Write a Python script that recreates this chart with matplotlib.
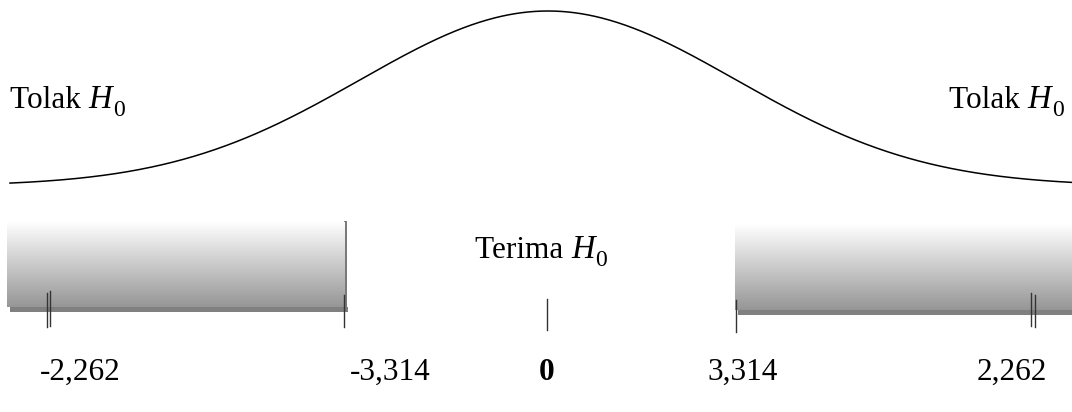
import numpy as np
import matplotlib
matplotlib.use("Agg")
import matplotlib.pyplot as plt

plt.rcParams['font.family'] = ['Liberation Serif', 'DejaVu Serif']

# diagram layout values (canvas units)
curve_center = 548
curve_sigma = 188
curve_base = 186
curve_peak = 11
curve_x_range = [10, 1072]

region_left = [7, 345]       # rejection region left (x0, x1)
region_right = [735, 1072]   # rejection region right
region_left_y = [222, 307]
region_right_y = [225, 310]

tick_x = [47, 50, 344, 547, 736, 1031, 1035]
tick_y0 = [293, 291, 295, 299, 300, 293, 295]
tick_y1 = [327, 326, 327, 330, 332, 326, 327]

value_labels = ['-2,262', '-3,314', '0', '3,314', '2,262']
value_x = [80, 390, 547, 743, 1012]
value_bold = [False, False, True, False, False]
value_y = 372

area_words = ['Tolak ', 'Tolak ', 'Terima ']
area_sym = ['H', 'H', 'H']
area_sub = ['0', '0', '0']
area_x = [10, 949, 475]          # left edge of each label
area_baseline = [108, 108, 258]

W, H = 1072, 412
fig = plt.figure(figsize=(W / 100, H / 100), dpi=100)
ax = fig.add_axes([0, 0, 1, 1])
ax.set_xlim(0, W)
ax.set_ylim(H, 0)
ax.axis('off')

# bell curve
xs = np.linspace(curve_x_range[0], curve_x_range[1], 800)
ys = curve_base - (curve_base - curve_peak) * np.exp(-(xs - curve_center) ** 2 / (2 * curve_sigma ** 2))
ax.plot(xs, ys, color='black', lw=1.1)

# gradient rectangles with shadow
grad = np.linspace(254, 150, 256)[:, None] / 255.0
grad_img = np.dstack([grad, grad, grad])

def region(xr, yr, shadow_right=True):
    x0, x1 = xr
    y0, y1 = yr
    ax.fill_between([x0 + 3, x1 + 3 if shadow_right else x1], y1, y1 + 5,
                    color='#808080', lw=0, zorder=1)
    if shadow_right:
        ax.fill_between([x1 - 1, x1 + 2], y0 - 1, y1 + 5, color='#7a7a7a', lw=0, zorder=1)
    ax.imshow(grad_img, extent=[x0, x1, y1, y0], aspect='auto', zorder=2,
              interpolation='bilinear')

region(region_left, region_left_y, True)
region(region_right, region_right_y, False)
ax.set_xlim(0, W)
ax.set_ylim(H, 0)

for x, a, b in zip(tick_x, tick_y0, tick_y1):
    ax.plot([x, x], [a, b], color='#333333', lw=1.0, zorder=3)

for t, x, b in zip(value_labels, value_x, value_bold):
    ax.text(x, value_y, t, ha='center', va='center', fontsize=22.5,
            fontweight='bold' if b else 'normal')

fig.canvas.draw()
for w, s, sub, x, yb in zip(area_words, area_sym, area_sub, area_x, area_baseline):
    t1 = ax.text(x, yb, w, ha='left', va='baseline', fontsize=22.5)
    t2 = ax.annotate(s, xy=(1, 0), xycoords=t1, xytext=(0, 0), textcoords='offset points',
                     ha='left', va='bottom', fontsize=23.5, style='italic')
    ax.annotate(sub, xy=(1, 0), xycoords=t2, xytext=(0.5, -4.5), textcoords='offset points',
                ha='left', va='bottom', fontsize=17)

fig.savefig('out.png', dpi=100)
